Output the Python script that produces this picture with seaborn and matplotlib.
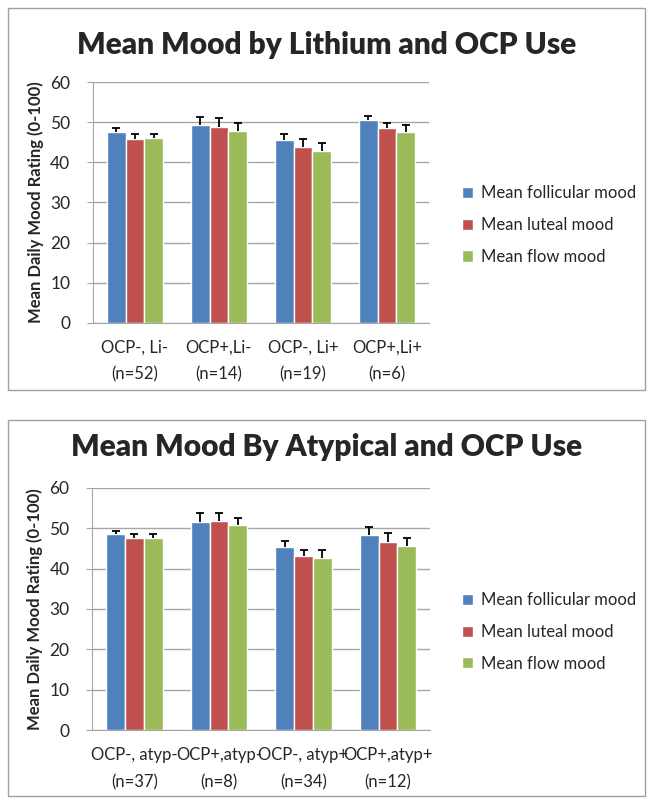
import matplotlib
matplotlib.use("Agg")
import matplotlib.pyplot as plt
import numpy as np
import pandas as pd
import seaborn as sns
from matplotlib.patches import Patch, Rectangle

sns.set_style("white")
plt.rcParams["font.family"] = ["Lato", "DejaVu Sans"]

measures = ["Mean follicular mood", "Mean luteal mood", "Mean flow mood"]
palette = ["#4F81BD", "#C0504D", "#9BBB59"]

li_groups = ["OCP-, Li-\n(n=52)", "OCP+,Li-\n(n=14)", "OCP-, Li+\n(n=19)", "OCP+,Li+\n(n=6)"]
li_follicular = [47.5, 49.2, 45.6, 50.5]
li_luteal = [45.9, 48.9, 43.8, 48.5]
li_flow = [46.0, 47.8, 42.9, 47.5]
li_follicular_err = [1.0, 2.0, 1.5, 1.1]
li_luteal_err = [1.1, 2.2, 2.1, 1.2]
li_flow_err = [1.0, 2.0, 2.0, 1.7]

atyp_groups = ["OCP-, atyp-\n(n=37)", "OCP+,atyp-\n(n=8)", "OCP-, atyp+\n(n=34)", "OCP+,atyp+\n(n=12)"]
atyp_follicular = [48.6, 51.6, 45.4, 48.4]
atyp_luteal = [47.5, 51.8, 43.1, 46.6]
atyp_flow = [47.5, 50.7, 42.6, 45.7]
atyp_follicular_err = [0.7, 2.1, 1.5, 1.8]
atyp_luteal_err = [1.1, 1.9, 1.6, 2.1]
atyp_flow_err = [1.0, 1.9, 1.9, 1.9]

grid_color = "#a6a6a6"
fig = plt.figure(figsize=(6.54, 8.05), dpi=100)


def draw_panel(rect, groups, values, errors, title, title_y, legend_y, frame):
    frame_x, frame_y, frame_w, frame_h = frame
    fig.add_artist(Rectangle((frame_x, frame_y), frame_w, frame_h, transform=fig.transFigure,
                             fill=False, edgecolor="#a0a0a0", linewidth=1))
    fig.text(0.5, title_y, title, ha="center", va="center", fontsize=21.5, fontweight="heavy")

    frame = pd.DataFrame({
        "group": np.repeat(groups, len(measures)),
        "measure": measures * len(groups),
        "value": np.ravel(np.column_stack(values)),
    })
    ax = fig.add_axes(rect)
    sns.barplot(data=frame, x="group", y="value", hue="measure", palette=palette,
                width=0.667, gap=0, saturation=1, errorbar=None, legend=False, ax=ax)

    # one-sided (upper) error bars, as in the original
    for container, err in zip(ax.containers, errors):
        xs = [bar.get_x() + bar.get_width() / 2 for bar in container]
        ys = [bar.get_height() for bar in container]
        _, caps, _ = ax.errorbar(xs, ys, yerr=[np.zeros(len(err)), err], fmt="none",
                                 ecolor="black", elinewidth=1.3, capsize=3, capthick=1.3)
        caps[0].set_visible(False)

    ax.set_ylim(0, 60)
    ax.set_yticks(np.arange(0, 61, 10))
    ax.set_xlim(-0.5, len(groups) - 0.5)
    ax.set_axisbelow(True)
    ax.yaxis.grid(True, color=grid_color, linewidth=1)
    for side in ("top", "right"):
        ax.spines[side].set_visible(False)
    for side in ("left", "bottom"):
        ax.spines[side].set_color(grid_color)
    ax.set_xticks(np.arange(-0.5, len(groups)), minor=True)
    ax.tick_params(axis="x", which="major", length=0, pad=12, labelsize=12)
    ax.tick_params(axis="x", which="minor", length=4.3, color=grid_color, direction="out")
    ax.tick_params(axis="y", length=4.3, color=grid_color, direction="out", pad=12,
                   labelsize=12.5, left=True)
    for label in ax.get_xticklabels():
        label.set_linespacing(1.85)
    ax.set_xlabel("")
    ax.set_ylabel("Mean Daily Mood Rating (0-100)", fontsize=12, fontweight="bold")
    ax.yaxis.set_label_coords(-0.145, 0.5)

    handles = [Patch(facecolor=c, label=m) for c, m in zip(palette, measures)]
    ax.legend(handles=handles, loc="center left", bbox_to_anchor=(0.683, legend_y),
              bbox_transform=fig.transFigure, frameon=False, fontsize=12,
              handlelength=0.65, handleheight=0.65, handletextpad=0.5, labelspacing=0.95)


draw_panel([0.142, 0.599, 0.514, 0.299], li_groups,
           [li_follicular, li_luteal, li_flow],
           [li_follicular_err, li_luteal_err, li_flow_err],
           "Mean Mood by Lithium and OCP Use", 0.944, 0.7205,
           (0.012, 0.5155, 0.974, 0.4745))
draw_panel([0.141, 0.093, 0.517, 0.301], atyp_groups,
           [atyp_follicular, atyp_luteal, atyp_flow],
           [atyp_follicular_err, atyp_luteal_err, atyp_flow_err],
           "Mean Mood By Atypical and OCP Use", 0.4447, 0.215,
           (0.012, 0.011, 0.974, 0.467))

fig.savefig("out.png", dpi=100)
